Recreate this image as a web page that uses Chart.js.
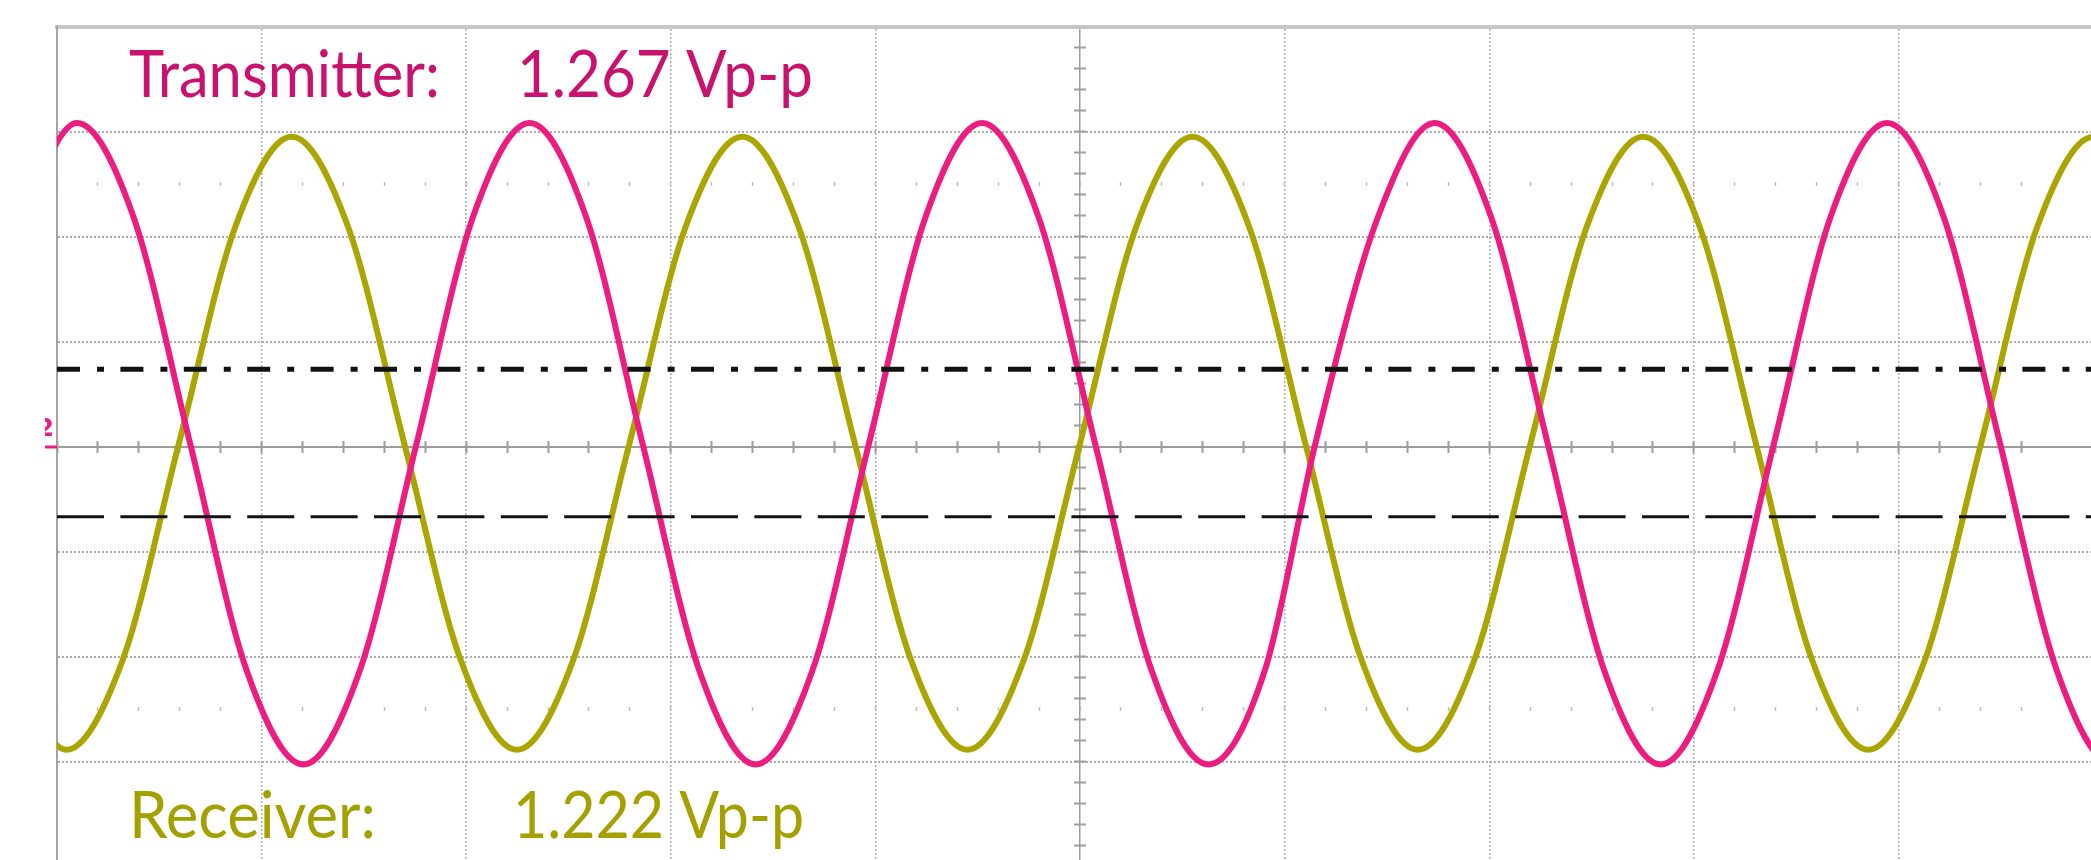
<!DOCTYPE html>
<html>
<head>
<meta charset="utf-8">
<title>Transmitter / Receiver</title>
<script src="https://cdn.jsdelivr.net/npm/chart.js@4.4.1/dist/chart.umd.min.js"></script>
<style>
  html, body { margin: 0; padding: 0; background: #fff; overflow: hidden; }
  #wrap { position: relative; width: 2091px; height: 860px; }
</style>
</head>
<body>
<div id="wrap"><canvas id="scope"></canvas></div>
<script>
// horizontal axis in screen divisions, vertical axis in volts (0.2 V / div)
const xMin = 0;
const xMax = 9.941;
const yMin = -0.787;
const yMax = 0.8;

// transmitter trace (pink)
const txTime = [-0.179, 0.098, 0.374, 0.651, 0.927, 1.204, 1.480, 1.757, 2.033,
  2.310, 2.586, 2.862, 3.139, 3.415, 3.692, 3.968, 4.245,
  4.521, 4.797, 5.074, 5.350, 5.627, 5.903, 6.150, 6.456,
  6.733, 7.009, 7.286, 7.562, 7.838, 8.115, 8.391, 8.668,
  8.944, 9.221, 9.497, 9.774, 10.050, 10.327];
const txVolts = [0.438,
  0.617, 0.438, 0.006, -0.426, -0.605, -0.426, 0.006, 0.438,
  0.617, 0.438, 0.006, -0.426, -0.605, -0.426, 0.006, 0.438,
  0.617, 0.438, 0.006, -0.426, -0.605, -0.426, 0.006, 0.438,
  0.617, 0.438, 0.006, -0.426, -0.605, -0.426, 0.006, 0.438,
  0.617, 0.438, 0.006, -0.426, -0.605, -0.426];

// receiver trace (olive)
const rxTime = [-0.229, 0.046, 0.321, 0.596, 0.872, 1.147, 1.422, 1.697, 1.973,
  2.248, 2.523, 2.798, 3.073, 3.349, 3.624, 3.899, 4.174,
  4.450, 4.725, 5.000, 5.275, 5.550, 5.826, 6.101, 6.376,
  6.651, 6.927, 7.202, 7.477, 7.752, 8.028, 8.303, 8.578,
  8.853, 9.129, 9.404, 9.679, 9.954, 10.230];
const rxVolts = [-0.406,
  -0.577, -0.406, 0.007, 0.420, 0.591, 0.420, 0.007, -0.406,
  -0.577, -0.406, 0.007, 0.420, 0.591, 0.420, 0.007, -0.406,
  -0.577, -0.406, 0.007, 0.420, 0.591, 0.420, 0.007, -0.406,
  -0.577, -0.406, 0.007, 0.420, 0.591, 0.420, 0.007, -0.406,
  -0.577, -0.406, 0.007, 0.420, 0.591, 0.420];

// the two black reference levels
const levelTime = [0, 9.941];
const levelHigh = [0.148, 0.148];
const levelLow = [-0.133, -0.133];

const txLabel = "Transmitter:";
const txValue = "1.267 Vp-p";
const rxLabel = "Receiver:";
const rxValue = "1.222 Vp-p";

const pink = "#ec1c80";
const olive = "#aaa500";

function toPoints(xs, ys) {
  return xs.map((x, i) => ({ x, y: ys[i] }));
}

function onStep(v, step) {
  return Math.abs(v / step - Math.round(v / step)) < 1e-6;
}

// major grid: dotted, centre line solid, edges left to the borders
function majorGrid(step, centre, skip) {
  return {
    color: (c) => {
      if (!c.tick) return "transparent";
      const v = c.tick.value;
      if (!onStep(v, step) || skip.some((s) => Math.abs(s - v) < 1e-9)) return "transparent";
      return Math.abs(v - centre) < 1e-9 ? "#9c9c9c" : "#adadad";
    },
    dash: (c) => (c.tick && Math.abs(c.tick.value - centre) < 1e-9 ? [] : [2, 2]),
  };
}

function minorTicks(step, color) {
  return (c) => (c.tick && onStep(c.tick.value, step) ? color : "transparent");
}

const xGrid = majorGrid(1, 5, [0]);
const yGrid = majorGrid(0.2, 0, [0.8]);

const scopeLabels = {
  id: "scopeLabels",
  afterDraw(chart) {
    const { ctx, chartArea } = chart;
    const left = chartArea.left;
    ctx.save();
    ctx.textBaseline = "alphabetic";
    ctx.font = "65px Lato";

    ctx.fillStyle = "#c8126e";
    ctx.fillText(txLabel, left + 72, 97, 311);
    ctx.fillText(txValue, left + 460, 97, 296);

    ctx.fillStyle = "#a3a000";
    ctx.fillText(rxLabel, left + 72, 838, 247);
    ctx.fillText(rxValue, left + 456, 838, 291);

    // channel 2 ground marker, cut at the left
    ctx.beginPath();
    ctx.rect(45, 400, left - 45, 60);
    ctx.clip();
    ctx.fillStyle = pink;
    ctx.font = "bold 24px 'DejaVu Sans'";
    ctx.textAlign = "right";
    ctx.fillText("2", 54, 436);
    ctx.fillRect(45, 445.5, left - 45, 3);
    ctx.restore();
  },
};

function tickRow(axis, pos, step, length, width, color) {
  const lim = axis === "x" ? { min: xMin, max: xMax } : { min: yMin, max: yMax };
  return {
    type: "linear",
    axis,
    position: pos,
    ...lim,
    ticks: { display: false, stepSize: step },
    grid: {
      drawOnChartArea: false,
      tickLength: length,
      tickWidth: width,
      tickColor: minorTicks(step, color),
    },
    border: { display: false },
  };
}

const ctx = document.getElementById("scope").getContext("2d");
new Chart(ctx, {
  type: "line",
  data: {
    datasets: [
      {
        label: "High level",
        data: toPoints(levelTime, levelHigh),
        borderColor: "#111",
        borderWidth: 5,
        borderDash: [23, 17, 7, 16.4],
        order: 0,
      },
      {
        label: "Low level",
        data: toPoints(levelTime, levelLow),
        borderColor: "#111",
        borderWidth: 3,
        borderDash: [47, 16.4],
        order: 0,
      },
      {
        label: "Transmitter",
        data: toPoints(txTime, txVolts),
        borderColor: pink,
        borderWidth: 6,
        cubicInterpolationMode: "monotone",
        clip: { left: 0, right: 0, top: 10, bottom: 10 },
        order: 1,
      },
      {
        label: "Receiver",
        data: toPoints(rxTime, rxVolts),
        borderColor: olive,
        borderWidth: 6,
        cubicInterpolationMode: "monotone",
        clip: { left: 0, right: 0, top: 10, bottom: 10 },
        order: 2,
      },
    ],
  },
  options: {
    responsive: true,
    maintainAspectRatio: false,
    animation: false,
    events: [],
    layout: { autoPadding: false, padding: { left: 57, top: 27, right: 0, bottom: 0 } },
    elements: { point: { radius: 0 }, line: { fill: false, borderCapStyle: "butt" } },
    plugins: { legend: { display: false }, tooltip: { enabled: false } },
    scales: {
      x: {
        type: "linear",
        position: "top",
        min: xMin,
        max: xMax,
        ticks: { display: false, stepSize: 1 },
        grid: { drawTicks: false, color: xGrid.color, lineWidth: 1.5 },
        border: { display: true, color: "#c6c6c6", width: 4, dash: xGrid.dash },
      },
      y: {
        type: "linear",
        position: "left",
        min: yMin,
        max: yMax,
        ticks: { display: false, stepSize: 0.2 },
        grid: { drawTicks: false, color: yGrid.color, lineWidth: 2 },
        border: { display: true, color: "#a4a4a4", width: 2, dash: yGrid.dash },
      },
      // tick marks along the centre lines, small marks on the half-way rows
      xCentre: tickRow("x", { y: 0.0114 }, 0.2, 12, 2, "#9c9c9c"),
      xRowTop: tickRow("x", { y: 0.5038 }, 0.2, 4, 1.5, "#bdbdbd"),
      xRowBottom: tickRow("x", { y: -0.4962 }, 0.2, 4, 1.5, "#bdbdbd"),
      yCentre: tickRow("y", { x: 5.029 }, 0.04, 12, 2, "#9c9c9c"),
    },
  },
  plugins: [scopeLabels],
});
</script>
</body>
</html>
